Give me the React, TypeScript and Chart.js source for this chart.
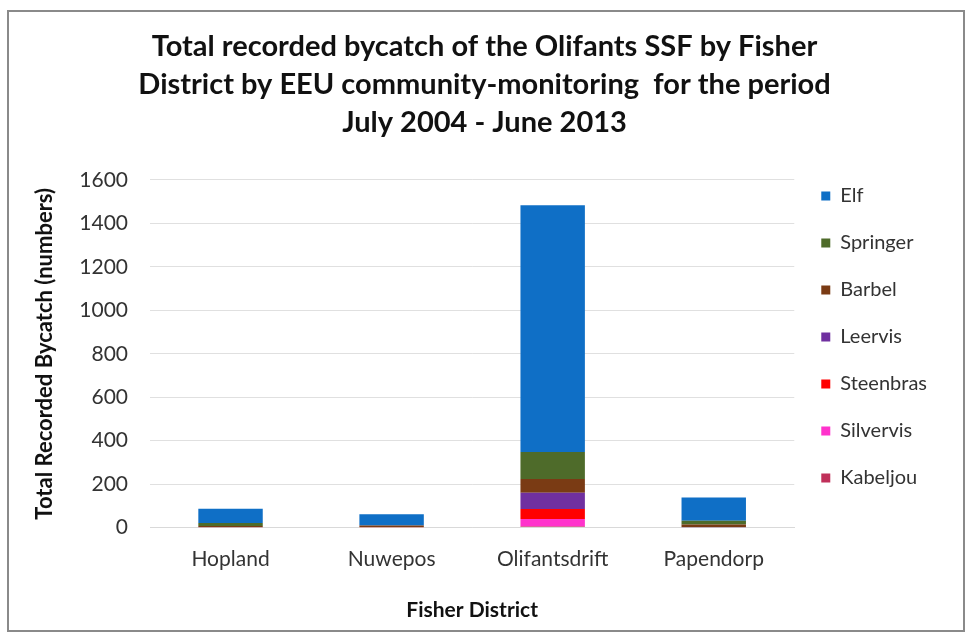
import { useEffect, useRef } from "react";
import { Chart, registerables } from "chart.js";

Chart.register(...registerables);

const districts = ["Hopland", "Nuwepos", "Olifantsdrift", "Papendorp"];
const kabeljou = [2, 0, 5, 0];
const silvervis = [0, 0, 35, 0];
const steenbras = [0, 2, 46, 0];
const leervis = [0, 0, 74, 2];
const barbel = [5, 8, 64, 12];
const springer = [14, 0, 124, 18];
const elf = [66, 52, 1136, 107];

const titleLines = [
  "Total recorded bycatch of the Olifants SSF by Fisher",
  "District by EEU community-monitoring  for the period",
  "July 2004 - June 2013",
];
const yTitle = "Total Recorded Bycatch (numbers)";
const xTitle = "Fisher District";

const FONT = "Lato, 'Open Sans', 'DejaVu Sans', sans-serif";

export default function App() {
  const ref = useRef<HTMLCanvasElement | null>(null);

  useEffect(() => {
    if (!ref.current) return;
    const series = [
      { label: "Kabeljou", data: kabeljou, color: "#C0305A" },
      { label: "Silvervis", data: silvervis, color: "#FF33CC" },
      { label: "Steenbras", data: steenbras, color: "#FF0000" },
      { label: "Leervis", data: leervis, color: "#7030A0" },
      { label: "Barbel", data: barbel, color: "#7A3B14" },
      { label: "Springer", data: springer, color: "#4E6B2A" },
      { label: "Elf", data: elf, color: "#0F6FC6" },
    ];
    const chart = new Chart(ref.current, {
      type: "bar",
      data: {
        labels: districts,
        datasets: series.map((s) => ({
          label: s.label,
          data: s.data,
          backgroundColor: s.color,
          borderWidth: 0,
          barPercentage: 0.4,
          categoryPercentage: 1,
        })),
      },
      options: {
        animation: false,
        responsive: false,
        maintainAspectRatio: false,
        layout: { padding: { top: 47, left: 32, right: 32, bottom: 9 } },
        plugins: {
          tooltip: { enabled: false },
          title: {
            display: true,
            text: titleLines,
            color: "#111",
            font: { family: FONT, size: 29, weight: "bold", lineHeight: 1.31 },
            padding: { top: -19, bottom: 38 },
          },
          legend: {
            display: true,
            position: "right",
            reverse: true,
            labels: {
              color: "#333",
              font: { family: FONT, size: 20 },
              boxWidth: 9,
              boxHeight: 9,
              padding: 27,
            },
          },
        },
        scales: {
          x: {
            stacked: true,
            grid: { display: false, drawTicks: false },
            border: { display: true, color: "#D9D9D9" },
            ticks: {
              color: "#333",
              font: { family: FONT, size: 21 },
              padding: 19,
            },
            title: {
              display: true,
              text: xTitle,
              color: "#111",
              font: { family: FONT, size: 21, weight: "bold" },
              padding: { top: 7, bottom: 4 },
            },
          },
          y: {
            stacked: true,
            min: 0,
            max: 1600,
            grid: { color: "#E0E0E0", drawTicks: false },
            border: { display: false },
            ticks: {
              stepSize: 200,
              color: "#333",
              font: { family: FONT, size: 21 },
              padding: 22,
              callback: (v: any) => String(v),
            },
            title: {
              display: true,
              text: yTitle,
              color: "#111",
              font: { family: FONT, size: 22, weight: "bold" },
              padding: { top: 0, bottom: 0 },
            },
            afterFit: (scale: any) => {
              scale.width = 118;
            },
          },
        },
      },
    });
    return () => chart.destroy();
  }, []);

  return (
    <div style={{ position: "absolute", left: 0, top: 0, width: 969, height: 636, background: "#fff" }}>
      <div
        style={{
          position: "absolute",
          left: 7,
          top: 10,
          width: 958,
          height: 622,
          border: "2px solid #8A8A8A",
          boxSizing: "border-box",
        }}
      />
      <canvas ref={ref} width={969} height={636} style={{ position: "absolute", left: 0, top: 0 }} />
    </div>
  );
}
